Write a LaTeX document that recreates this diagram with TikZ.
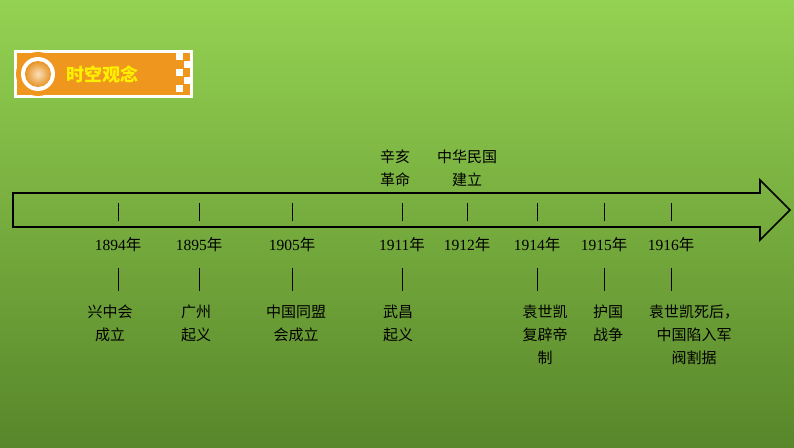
\documentclass[tikz,border=0pt]{standalone}
\usepackage{fontspec}
\setmainfont{Liberation Serif}
\newfontfamily\cjk{Noto Sans CJK SC}
\definecolor{bgtop}{RGB}{148,210,82}
\definecolor{bgbot}{RGB}{88,134,42}
\definecolor{org}{RGB}{238,150,30}
\definecolor{ylw}{RGB}{255,240,0}
\begin{document}
\begin{tikzpicture}[x=1pt,y=-1pt,
  tk/.style={line width=0.6pt},
  yr/.style={font=\fontsize{15.5}{15}\selectfont,inner sep=0},
  ds/.style={font=\cjk\fontsize{15}{23}\selectfont,align=center,inner sep=0,anchor=north}]
\shade[top color=bgtop,bottom color=bgbot] (0,0) rectangle (794,447);
\useasboundingbox (0,0) rectangle (794,447);
% header
\fill[white] (14,50) rectangle (193,98);
\fill[org] (17,53) rectangle (190,95);
\foreach \a/\b in {176/53,184/61,176/69,184/77,176/85}{\fill[white] (\a,\b) rectangle ++(7,7);}
\fill[org] (38,74) circle (22);
\fill[white] (38,74) circle (17);
\shade[inner color=white!70!org,outer color=org!85!brown] (38,74) circle (13);
\node[font=\cjk\bfseries\fontsize{18}{18}\selectfont,text=ylw,anchor=west,inner sep=0] (hd) at (66,75) {时空观念};
% arrow
\draw[line width=1.6pt,line join=miter] (13,193) -- (760,193) -- (760,180) -- (790,210) -- (760,240) -- (760,227) -- (13,227) -- cycle;
\node[ds] (top1) at (395,150) {辛亥\\革命};
\node[ds] (top2) at (467,150) {中华民国\\建立};
\foreach \x/\y/\n in {118/1894/a,199/1895/b,292/1905/c,402/1911/d,467/1912/e,537/1914/f,604/1915/g,671/1916/h}{
  \coordinate (t\n) at (\x,203);
  \coordinate (u\n) at (\x,221);
  \draw[tk] (t\n) -- (u\n);
  \node[yr] (y\n) at (\x,245) {\y{\cjk 年}};
}
\foreach \x/\n in {118/a,199/b,292/c,402/d,537/f,604/g,671/h}{
  \coordinate (v\n) at (\x,268);
  \coordinate (w\n) at (\x,291);
  \draw[tk] (v\n) -- (w\n);
}
\node[ds] (da) at (110,305) {兴中会\\成立};
\node[ds] (db) at (196,305) {广州\\起义};
\node[ds] (dc) at (296,305) {中国同盟\\会成立};
\node[ds] (dd) at (398,305) {武昌\\起义};
\node[ds] (df) at (545,305) {袁世凯\\复辟帝\\制};
\node[ds] (dg) at (608,305) {护国\\战争};
\node[ds] (dh) at (694,305) {袁世凯死后，\\中国陷入军\\阀割据};
\end{tikzpicture}
\end{document}
